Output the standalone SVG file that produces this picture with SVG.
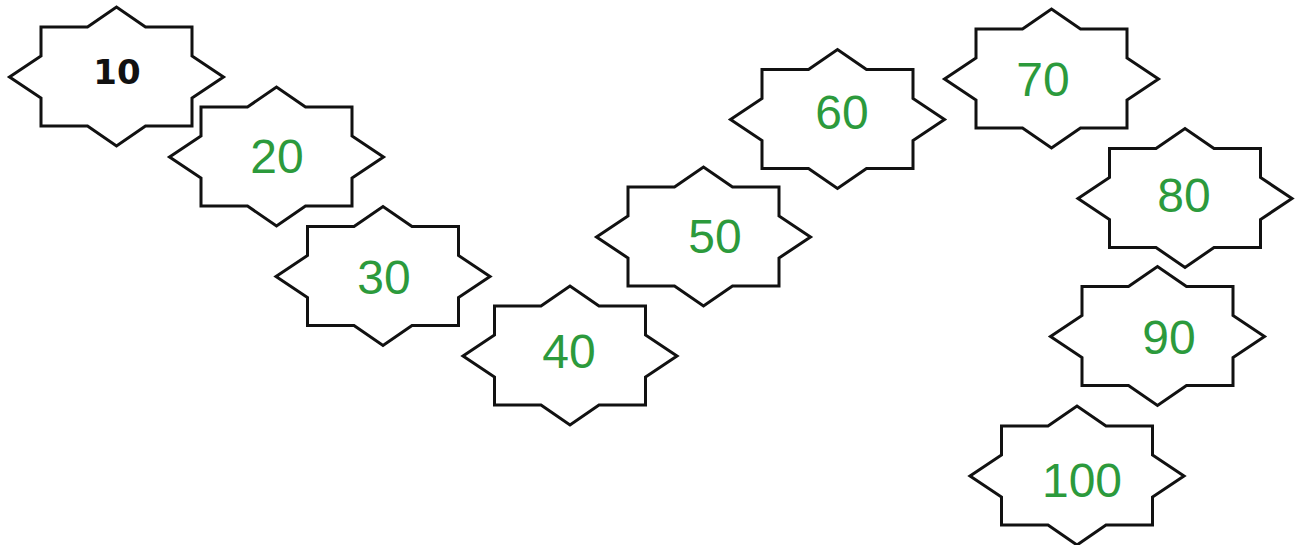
<svg xmlns="http://www.w3.org/2000/svg" xmlns:xlink="http://www.w3.org/1999/xlink" width="1299" height="545" viewBox="0 0 1299 545">
<style>
.star{fill:#fff;stroke:#111;stroke-width:3;stroke-linejoin:miter}
.num{font-family:"Liberation Sans",Arial,sans-serif;font-size:48px;fill:#2c9a3c;text-anchor:middle}
.first{font-family:"DejaVu Sans","Liberation Sans",sans-serif;font-size:34px;font-weight:bold;fill:#111;text-anchor:middle}
</style>
<defs>
<path id="star" d="M-75.5,-50 L-29,-50 L0,-70 L29,-50 L75.5,-50 L75.5,-21 L107,0 L75.5,21 L75.5,49 L29,49 L0,69 L-29,49 L-75.5,49 L-75.5,21 L-107,0 L-75.5,-21 Z"/>
</defs>
<rect width="1299" height="545" fill="#fff"/>
<g id="connectors"></g>
<g id="n10"><use href="#star" class="star" x="116.5" y="77"/><text class="first" x="117" y="84">10</text></g>
<g id="n20"><use href="#star" class="star" x="276.5" y="157"/><text class="num" x="277" y="173">20</text></g>
<g id="n30"><use href="#star" class="star" x="383" y="276.5"/><text class="num" x="384" y="294">30</text></g>
<g id="n40"><use href="#star" class="star" x="570" y="356"/><text class="num" x="569" y="368">40</text></g>
<g id="n50"><use href="#star" class="star" x="703.5" y="237"/><text class="num" x="715" y="253">50</text></g>
<g id="n60"><use href="#star" class="star" x="837.5" y="119.5"/><text class="num" x="842" y="129">60</text></g>
<g id="n70"><use href="#star" class="star" x="1051.5" y="79"/><text class="num" x="1043" y="96">70</text></g>
<g id="n80"><use href="#star" class="star" x="1185" y="198.5"/><text class="num" x="1184" y="212">80</text></g>
<g id="n90"><use href="#star" class="star" x="1157.5" y="336.5"/><text class="num" x="1169" y="354">90</text></g>
<g id="n100"><use href="#star" class="star" x="1077" y="476"/><text class="num" x="1082" y="497">100</text></g>
</svg>
